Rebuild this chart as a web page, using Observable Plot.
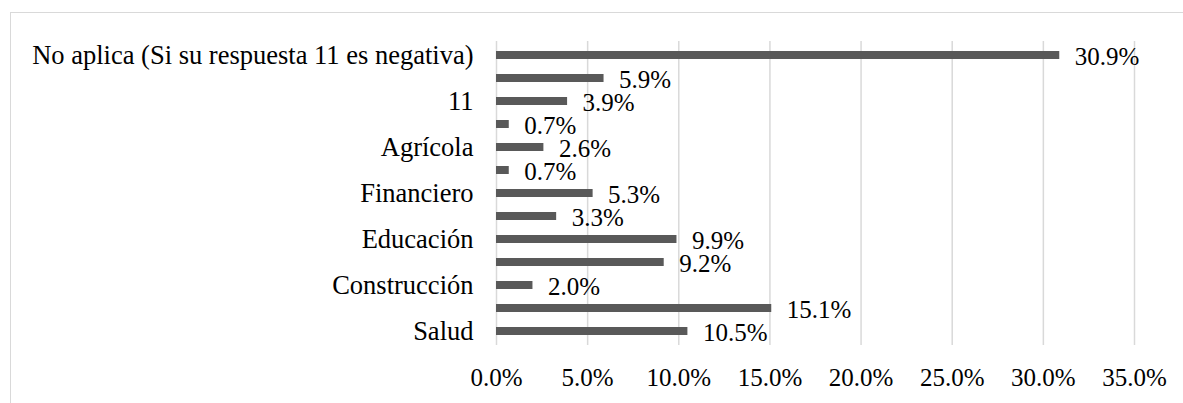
<!DOCTYPE html>
<html>
<head>
<meta charset="utf-8">
<script src="https://cdn.jsdelivr.net/npm/d3@7"></script>
<script src="https://cdn.jsdelivr.net/npm/@observablehq/plot@0.6"></script>
<style>
  html, body { margin: 0; padding: 0; background: #fff; overflow: hidden; width: 1183px; height: 403px; }
  #frame { position: absolute; left: 10px; top: 12px; width: 1300px; height: 500px; border: 1px solid #d9d9d9; box-sizing: border-box; }
  #chart { position: absolute; left: 0; top: 0; }
</style>
</head>
<body>
<div id="frame"></div>
<div id="chart"></div>
<script>
// Categories, top to bottom. Excel showed only every other label; the rest are hidden.
const categories = [
  "No aplica (Si su respuesta 11 es negativa)",
  "(categoría sin etiqueta 1)",
  "11",
  "(categoría sin etiqueta 2)",
  "Agrícola",
  "(categoría sin etiqueta 3)",
  "Financiero",
  "(categoría sin etiqueta 4)",
  "Educación",
  "(categoría sin etiqueta 5)",
  "Construcción",
  "(categoría sin etiqueta 6)",
  "Salud"
];
const shownLabels = ["No aplica (Si su respuesta 11 es negativa)", "11", "Agrícola", "Financiero", "Educación", "Construcción", "Salud"];
const values = [30.9, 5.9, 3.9, 0.7, 2.6, 0.7, 5.3, 3.3, 9.9, 9.2, 2.0, 15.1, 10.5];
const xTicks = [0, 5, 10, 15, 20, 25, 30, 35];

const data = categories.map((c, i) => ({category: c, value: values[i]}));
const fmt = v => v.toFixed(1) + "%";
const FONT = "'Liberation Serif', 'Times New Roman', serif";

const chart = Plot.plot({
  width: 1183,
  height: 403,
  marginLeft: 496,
  marginRight: 49,
  marginTop: 41,
  marginBottom: 58,
  style: {fontFamily: FONT, background: "transparent", color: "#000"},
  x: {domain: [0, 35], label: null},
  y: {domain: categories, paddingInner: 0.64, paddingOuter: 0.32, align: 0.5, label: null},
  marks: [
    Plot.gridX(xTicks, {stroke: "#d9d9d9", strokeOpacity: 1, strokeWidth: 1.5}),
    Plot.barX(data, {x: "value", y: "category", fill: "#595959"}),
    Plot.text(data, {x: "value", y: "category", text: d => fmt(d.value), textAnchor: "start", dx: 15, dy: 1.5, fontSize: 25, fontFamily: FONT, fill: "#000"}),
    Plot.axisX({ticks: xTicks, tickSize: 0, tickPadding: 23, tickFormat: fmt, fontSize: 25, fontFamily: FONT, fill: "#000", label: null}),
    Plot.axisY({tickSize: 0, tickPadding: 23, tickFormat: d => shownLabels.includes(d) ? d : "", fontSize: 26.5, fontFamily: FONT, fill: "#000", label: null})
  ]
});
document.getElementById("chart").appendChild(chart);
</script>
</body>
</html>
